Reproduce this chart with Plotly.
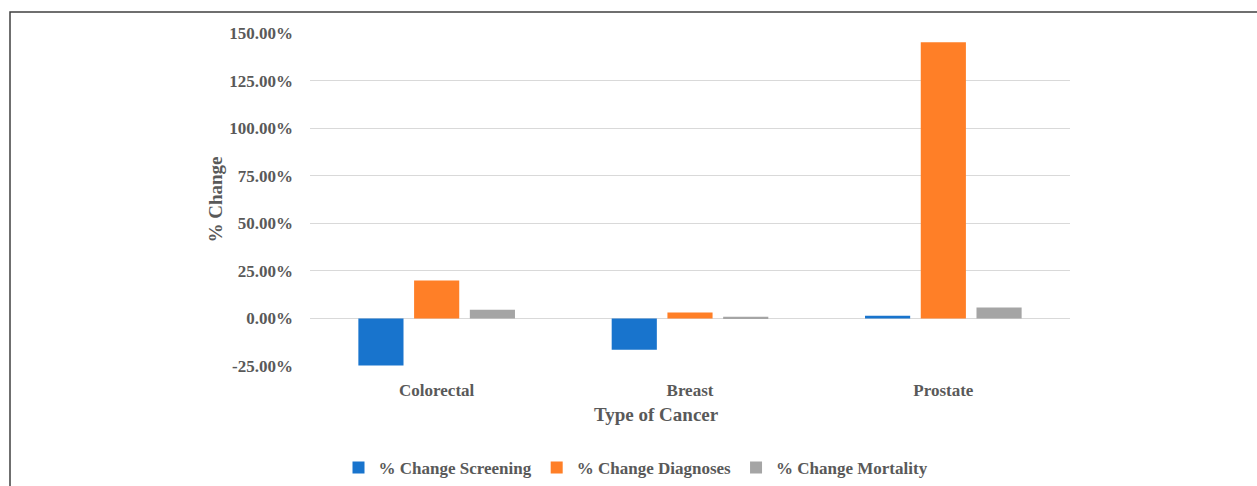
import plotly.graph_objects as go

categories = ["Colorectal", "Breast", "Prostate"]
screening = [-24.8, -16.4, 1.4]
diagnoses = [19.9, 3.1, 145.2]
mortality = [4.6, 0.9, 5.7]

tick_vals = [-25, 0, 25, 50, 75, 100, 125, 150]
tick_text = [f"{v:.2f}%" for v in tick_vals]

FONT = "Liberation Serif, Times New Roman, serif"
TEXT_COLOR = "#595959"

fig = go.Figure()
for name, vals, color in [
    ("% Change Screening", screening, "#1874cd"),
    ("% Change Diagnoses", diagnoses, "#ff7f27"),
    ("% Change Mortality", mortality, "#a5a5a5"),
]:
    fig.add_trace(go.Bar(x=categories, y=vals, name=name, marker_color=color,
                         marker_line_width=0))

# plot area in pixels: x 310..1070, y 33..366
L, R, T, B, W, H = 310, 1070, 33, 366, 1257, 486
def px_x(p):
    return (p - L) / (R - L)
def px_y(p):
    return (B - p) / (B - T)

fig.update_layout(
    width=W, height=H,
    margin=dict(l=L, r=W - R, t=T, b=H - B, autoexpand=False),
    paper_bgcolor="white", plot_bgcolor="white",
    font=dict(family=FONT, color=TEXT_COLOR, size=17, weight="bold"),
    barmode="group", bargap=0.34, bargroupgap=0.19,
    showlegend=True,
    legend=dict(orientation="h", x=px_x(636), xanchor="center",
                y=px_y(468), yanchor="middle",
                font=dict(size=17, family=FONT, color=TEXT_COLOR, weight="bold"),
                itemwidth=30, traceorder="normal"),
    xaxis=dict(showgrid=False, showline=False, ticks="", automargin=False,
               tickfont=dict(size=17, weight="bold"), ticklabelstandoff=12),
    yaxis=dict(range=[-25, 150], tickvals=tick_vals, ticktext=tick_text,
               automargin=False,
               showgrid=True, gridcolor="#d9d9d9", gridwidth=1,
               zeroline=True, zerolinecolor="#d9d9d9", zerolinewidth=1,
               showline=False, ticks="",
               tickfont=dict(size=17, weight="bold"), ticklabelstandoff=16,
               title=dict(text="% Change", font=dict(size=19, weight="bold"),
                          standoff=1)),
    annotations=[dict(text="Type of Cancer", xref="paper", yref="paper",
                      x=px_x(656), y=px_y(415), xanchor="center", yanchor="middle",
                      showarrow=False,
                      font=dict(size=19, family=FONT, color=TEXT_COLOR, weight="bold"))],
    shapes=[dict(type="path", xref="paper", yref="paper",
                 path=f"M {px_x(10)},{px_y(500)} L {px_x(10)},{px_y(12)} L {px_x(1270)},{px_y(12)}",
                 line=dict(color="#404040", width=1.5))],
)

fig.write_html("out.html")
